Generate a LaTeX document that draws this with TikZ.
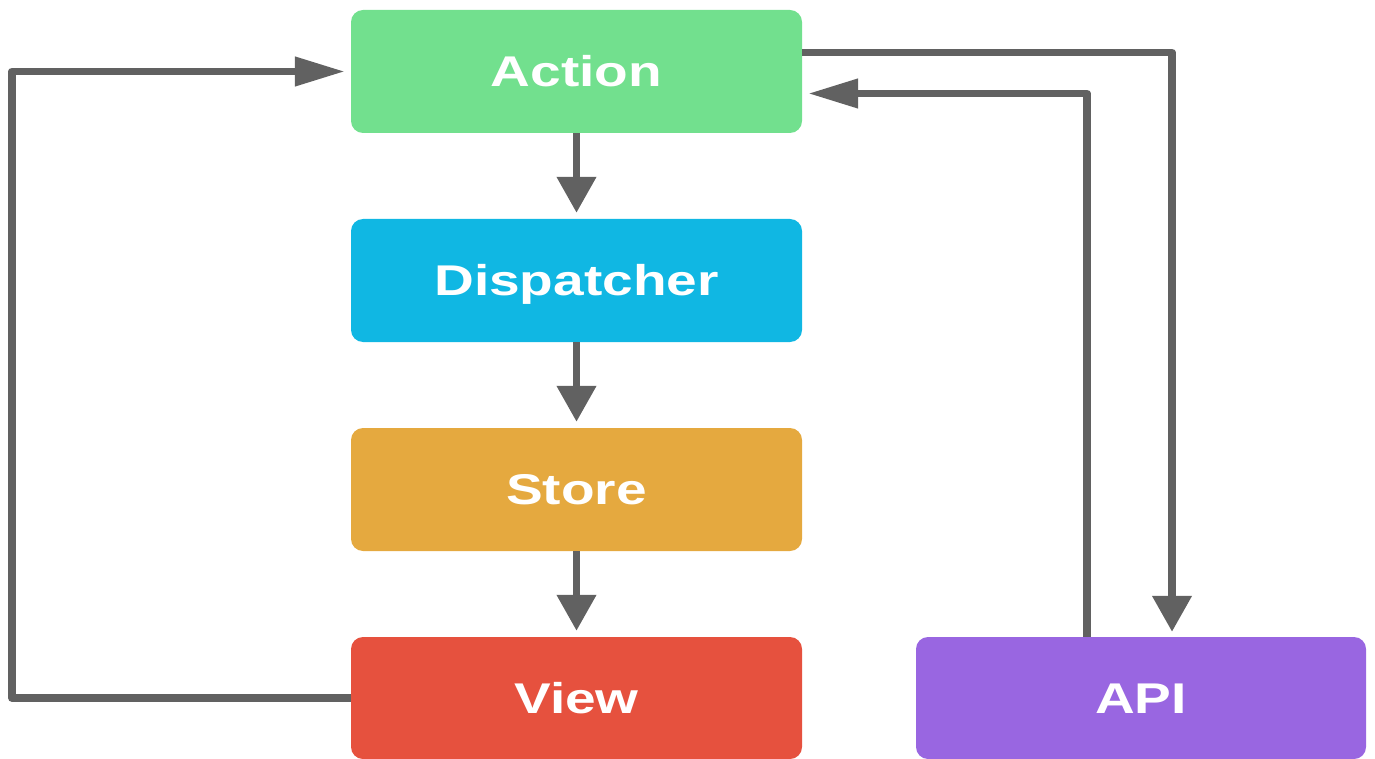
\documentclass[tikz,border=0pt]{standalone}
\usepackage{fontspec}
\newfontfamily\lab[FakeStretch=1.28]{Liberation Sans}
\usetikzlibrary{arrows.meta}
\definecolor{cact}{HTML}{72E08E}
\definecolor{cdis}{HTML}{10B7E3}
\definecolor{csto}{HTML}{E5A93F}
\definecolor{cvie}{HTML}{E6513E}
\definecolor{capi}{HTML}{9966E1}
\definecolor{cline}{HTML}{616161}
\tikzset{
  box/.style={rectangle, rounded corners=12pt, minimum width=451pt, minimum height=123pt,
    inner sep=0pt, text=white, font=\lab\bfseries\fontsize{43}{50}\selectfont,
    text height=30.8pt, text depth=0pt},
  conn/.style={draw=cline, line width=7.5pt, line join=round},
  varrow/.style={conn, -{Triangle[length=36pt,width=38pt]}, shorten >=6pt},
  harrow/.style={conn, -{Triangle[length=50pt,width=28pt]}, shorten >=6pt}
}
\begin{document}
\begin{tikzpicture}[x=1pt,y=-1pt]
\useasboundingbox (0,0) rectangle (1375,759);
\node[box, fill=cact] (A) at (576.5,71.5) {Action};
\node[box, fill=cdis] (D) at (576.5,280.5) {Dispatcher};
\node[box, fill=csto] (S) at (576.5,489.5) {Store};
\node[box, fill=cvie, minimum height=122pt] (V) at (576.5,698) {View};
\node[box, fill=capi, minimum width=450pt, minimum height=122pt] (P) at (1141,698) {API};
\coordinate (L) at (12,400);
\draw[varrow] (A.south) -- (D.north);
\draw[varrow] (D.south) -- (S.north);
\draw[varrow] (S.south) -- (V.north);
\draw[harrow] (V.west) -| (L) |- (A.west);
\draw[varrow, shorten >=5pt] ([yshift=19pt]A.east) -| ([xshift=31pt]P.north);
\draw[harrow] ([xshift=-54pt]P.north) |- ([yshift=-22pt]A.east);
\end{tikzpicture}
\end{document}
